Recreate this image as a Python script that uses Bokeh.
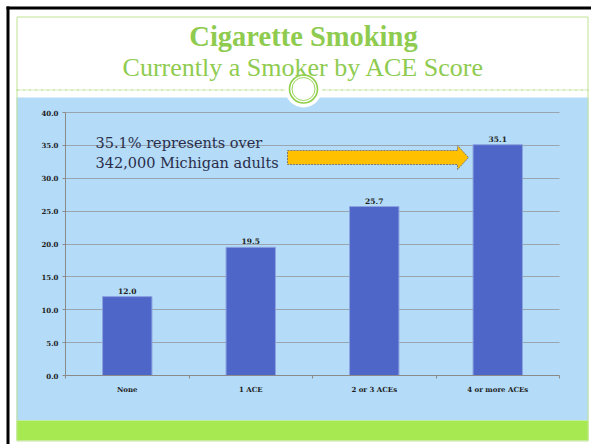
import numpy as np
from bokeh.plotting import figure
from bokeh.models import (ColumnDataSource, Range1d, FixedTicker,
                          NumeralTickFormatter, Label)
from bokeh.core.properties import value
from bokeh.embed import file_html
from bokeh.resources import INLINE

# ---- data ----
categories = ["None", "1 ACE", "2 or 3 ACEs", "4 or more ACEs"]
smoker_pct = [12.0, 19.5, 25.7, 35.1]
y_ticks = [0, 5, 10, 15, 20, 25, 30, 35, 40]
title_text = "Cigarette Smoking"
subtitle_text = "Currently a Smoker by ACE Score"
note_lines = ["35.1% represents over", "342,000 Michigan adults"]

# ---- layout constants (canvas pixels) ----
W, H = 591, 444
PL, PR, PT, PB = 65, 559, 112, 375        # plot area in canvas pixels
ncat = len(categories)
ymax = y_ticks[-1]
xpx = (PR - PL) / ncat                    # pixels per category
ypx = (PB - PT) / ymax                    # pixels per percent

BLUE = "#b4dbf7"
GREEN = "#a6e950"
TITLE_GREEN = "#8ecb4f"
FRAME_GREEN = "#bfe393"
AXIS_GREY = "#8a8a8a"

xs = [i + 0.5 for i in range(ncat)]
src = ColumnDataSource(dict(x=xs, val=smoker_pct, cat=categories,
                            lab=[f"{v:.1f}" for v in smoker_pct]))

p = figure(width=W, height=H,
           x_range=Range1d(-PL / xpx, (W - PL) / xpx),
           y_range=Range1d(-(H - PB) / ypx, ymax + PT / ypx),
           output_backend="svg", toolbar_location=None,
           min_border=0, min_border_left=0, min_border_right=0,
           min_border_top=0, min_border_bottom=0)
p.outline_line_color = None
p.background_fill_color = "white"
p.border_fill_color = "white"

# pixel coordinate system for the page decoration
p.extra_x_ranges = {"px": Range1d(0, W)}
p.extra_y_ranges = {"py": Range1d(H, 0)}
PX = dict(x_range_name="px", y_range_name="py", level="image")

p.quad(left=16, right=588, top=97, bottom=420, fill_color=BLUE, line_color=None, **PX)
p.quad(left=16, right=588, top=420, bottom=440, fill_color=GREEN, line_color=None, **PX)
p.quad(left=6, right=9, top=6, bottom=444, fill_color="black", line_color=None, **PX)
p.quad(left=6, right=591, top=6, bottom=9, fill_color="black", line_color=None, **PX)
p.quad(left=16.5, right=587.5, top=16.5, bottom=440.5, fill_alpha=0,
       line_color=FRAME_GREEN, line_width=1, **PX)
p.segment(x0=16, y0=89.5, x1=588, y1=89.5, line_color="#a8d676", line_width=1,
          line_dash="3 1 1 1", **PX)
p.circle(x=303, y=88.5, radius=18.5, fill_color="white", line_color=None, **PX)
p.circle(x=303, y=88.5, radius=14, fill_alpha=0, line_color="#8fcf4a",
         line_width=1.6, **PX)
p.circle(x=303, y=88.5, radius=11.5, fill_alpha=0, line_color="#8fcf4a",
         line_width=0.9, **PX)

# ---- titles ----
p.add_layout(Label(x=303, y=H - 36, x_units="screen", y_units="screen",
                   text=title_text, text_align="center", text_baseline="alphabetic",
                   text_font="Liberation Serif", text_font_style="bold",
                   text_font_size="28.5px", text_color=TITLE_GREEN))
p.add_layout(Label(x=303, y=H - 67, x_units="screen", y_units="screen",
                   text=subtitle_text, text_align="center", text_baseline="alphabetic",
                   text_font="Liberation Serif", text_font_size="26px",
                   text_color=TITLE_GREEN))

# ---- bars ----
p.vbar(x="x", top="val", width=0.4, source=src, fill_color="#4e66c8",
       line_color="#8ba2e0", line_width=1)
p.text(x="x", y="val", text="lab", source=src, y_offset=-6,
       text_align="center", text_baseline="alphabetic",
       text_font=value("DejaVu Serif"), text_font_style="bold",
       text_font_size="7.5px", text_color="#1e1e1e")

# ---- annotation text and arrow ----
for i, line in enumerate(note_lines):
    p.add_layout(Label(x=95, y=H - (142 + 20 * i), x_units="screen", y_units="screen",
                       text=line, text_align="left", text_baseline="alphabetic",
                       text_font="DejaVu Serif", text_font_size="14.5px",
                       text_color="#2a2e4b"))

p.patch(x=[287, 457, 457, 468, 457, 457, 287], y=[150, 150, 145, 157, 169, 164, 164],
        fill_color="#ffc000", line_color="#7a7a7a", line_width=1, line_dash="2 1",
        x_range_name="px", y_range_name="py")

# ---- axes and grid ----
p.xgrid.grid_line_color = None
p.ygrid.grid_line_color = "#98a4ae"
p.ygrid.grid_line_width = 1
p.ygrid.ticker = FixedTicker(ticks=y_ticks[1:])
try:
    p.ygrid.cross_bounds = (0, ncat)
except Exception:
    pass

p.yaxis.fixed_location = 0
p.yaxis.bounds = (0, ymax)
p.yaxis.ticker = FixedTicker(ticks=y_ticks)
p.yaxis.formatter = NumeralTickFormatter(format="0.0")
p.yaxis.minor_tick_line_color = None
p.yaxis.major_tick_in = 0
p.yaxis.major_tick_out = 3
p.yaxis.major_label_standoff = 4
p.yaxis.axis_line_color = AXIS_GREY
p.yaxis.major_tick_line_color = AXIS_GREY

p.xaxis.fixed_location = 0
p.xaxis.bounds = (0, ncat)
p.xaxis.ticker = FixedTicker(ticks=xs, minor_ticks=list(range(ncat + 1)))
p.xaxis.major_label_overrides = {x: c for x, c in zip(xs, categories)}
p.xaxis.axis_line_color = AXIS_GREY
p.xaxis.major_tick_line_color = None
p.xaxis.major_tick_in = 0
p.xaxis.major_tick_out = 0
p.xaxis.minor_tick_line_color = AXIS_GREY
p.xaxis.minor_tick_in = 0
p.xaxis.minor_tick_out = 3
p.xaxis.major_label_standoff = 6
for ax in (p.xaxis, p.yaxis):
    ax.major_label_text_font = "DejaVu Serif"
    ax.major_label_text_font_style = "bold"
    ax.major_label_text_font_size = "7px"
    ax.major_label_text_color = "#1e1e1e"

open("out.html", "w").write(file_html(p, INLINE))
